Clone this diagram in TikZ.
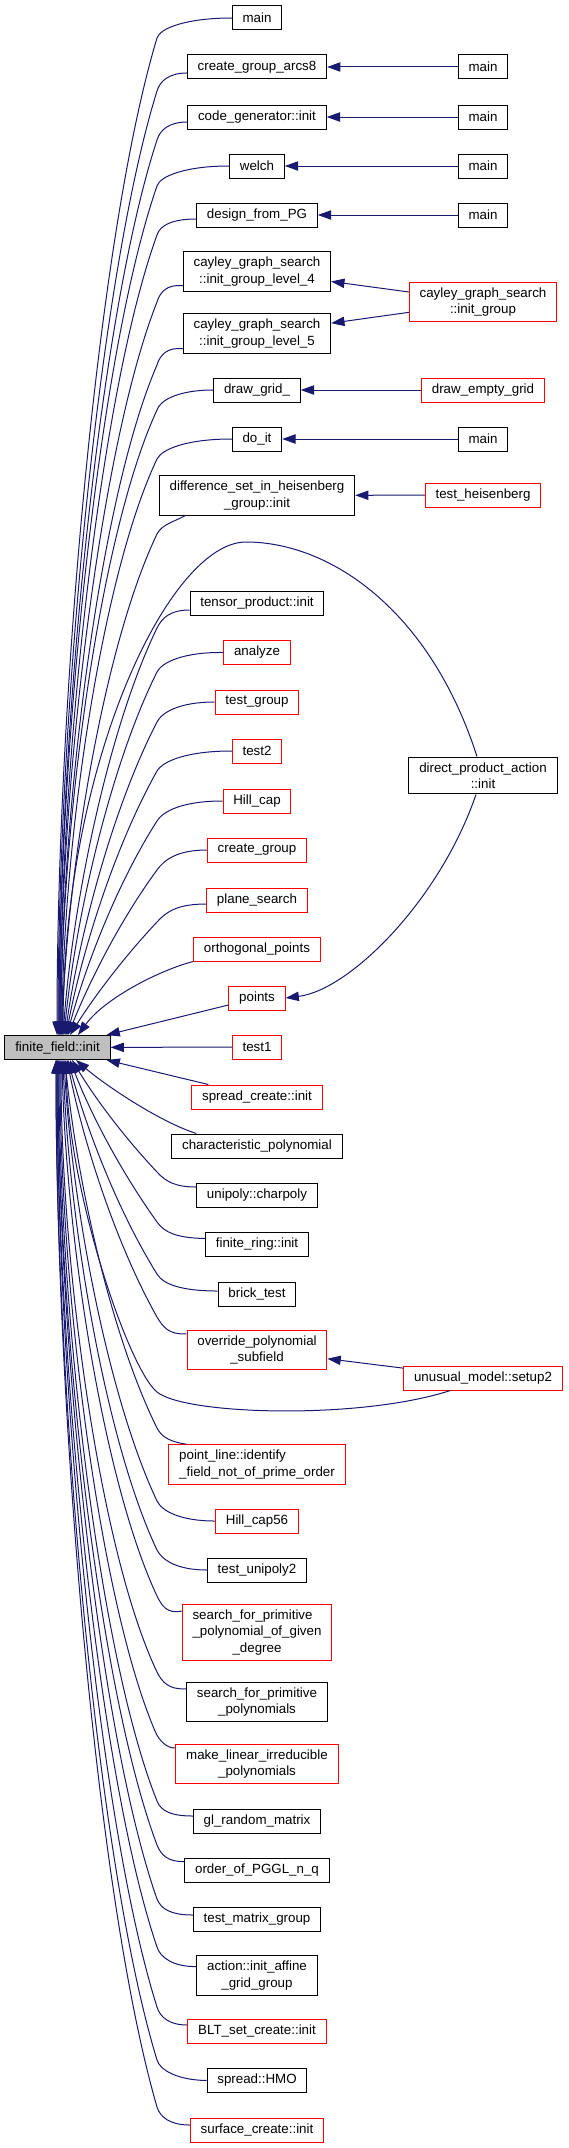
\documentclass[tikz,border=0pt]{standalone}
\usepackage{fontspec}
\setmainfont{Liberation Sans}
\usetikzlibrary{arrows.meta,calc}
\definecolor{navy}{HTML}{191970}
\definecolor{boxgrey}{HTML}{BFBFBF}
\begin{document}
\begin{tikzpicture}[x=0.75pt,y=-0.75pt,
  fn/.style={draw=black,fill=white,line width=0.75pt,inner xsep=7.7pt,inner ysep=4pt,
    minimum height=18pt,font=\fontsize{10}{12}\selectfont},
  fnred/.style={fn,draw=red},
  call/.style={draw=navy,line width=0.75pt,-{Triangle[length=10pt,width=7pt]}}]
\useasboundingbox (0,0) rectangle (568,2148);

\node[fn,fill=boxgrey] (ff) at (57.5,1047.5) {finite\_field::init};

% callers, middle column
\node[fn] (main1) at (257,18) {main};
\node[fn] (arcs8) at (257,67) {create\_group\_arcs8};
\node[fn] (codegen) at (257,117) {code\_generator::init};
\node[fn] (welch) at (257,166) {welch};
\node[fn] (design) at (257,215) {design\_from\_PG};
\node[fn] (cayley4) at (257,271.5) {\shortstack{cayley\_graph\_search\\::init\_group\_level\_4}};
\node[fn] (cayley5) at (257,333.5) {\shortstack{cayley\_graph\_search\\::init\_group\_level\_5}};
\node[fn] (drawgrid) at (257,390) {draw\_grid\_};
\node[fn] (doit) at (257,439) {do\_it};
\node[fn] (diff) at (257,495.5) {\shortstack{difference\_set\_in\_heisenberg\\\_group::init}};
\node[fn] (tensor) at (257,603) {tensor\_product::init};
\node[fnred] (analyze) at (257,652.5) {analyze};
\node[fnred] (testgroup) at (257,702) {test\_group};
\node[fnred] (test2) at (257,751) {test2};
\node[fnred] (hillcap) at (257,801) {Hill\_cap};
\node[fnred] (creategroup) at (257,850) {create\_group};
\node[fnred] (planesearch) at (257,900) {plane\_search};
\node[fnred] (ortho) at (257,949) {orthogonal\_points};
\node[fnred] (points) at (257,998) {points};
\node[fnred] (test1) at (257,1047) {test1};
\node[fnred] (spread) at (257,1097) {spread\_create::init};
\node[fn] (charpoly) at (257,1146) {characteristic\_polynomial};
\node[fn] (unipoly) at (257,1195) {unipoly::charpoly};
\node[fn] (finitering) at (257,1244.5) {finite\_ring::init};
\node[fn] (brick) at (257,1294) {brick\_test};
\node[fnred] (override) at (257,1350) {\shortstack{override\_polynomial\\\_subfield}};
\node[fnred] (pointline) at (257,1464.5) {\shortstack[l]{point\_line::identify\\\_field\_not\_of\_prime\_order}};
\node[fnred] (hillcap56) at (257,1521) {Hill\_cap56};
\node[fn] (testunipoly2) at (257,1570) {test\_unipoly2};
\node[fnred] (sgiven) at (257,1632.5) {\shortstack{\rlap{search\_for\_primitive}\phantom{\_polynomial\_of\_given}\\\_polynomial\_of\_given\\\_degree}};
\node[fn] (sprims) at (257,1702) {\shortstack{search\_for\_primitive\\\_polynomials}};
\node[fnred] (mlinear) at (257,1764) {\shortstack{make\_linear\_irreducible\\\_polynomials}};
\node[fn] (glrandom) at (257,1821) {gl\_random\_matrix};
\node[fn] (order) at (257,1870) {order\_of\_PGGL\_n\_q};
\node[fn] (testmatrix) at (257,1919) {test\_matrix\_group};
\node[fn] (action) at (257,1975.5) {\shortstack{action::init\_affine\\\_grid\_group}};
\node[fnred] (blt) at (257,2031) {BLT\_set\_create::init};
\node[fn] (hmo) at (257,2080.5) {spread::HMO};
\node[fnred] (surface) at (257,2130) {surface\_create::init};

% callers, right column
\node[fn] (mainA) at (483,67) {main};
\node[fn] (mainB) at (483,117) {main};
\node[fn] (mainC) at (483,166) {main};
\node[fn] (mainD) at (483,215) {main};
\node[fnred] (cinit) at (483,302) {\shortstack{cayley\_graph\_search\\::init\_group}};
\node[fnred] (drawempty) at (483,390) {draw\_empty\_grid};
\node[fn] (mainE) at (483,439) {main};
\node[fnred] (testheis) at (483,495) {test\_heisenberg};
\node[fn] (dpa) at (483,775.5) {\shortstack{direct\_product\_action\\::init}};
\node[fnred] (unusual) at (483,1378) {unusual\_model::setup2};

% right column to middle column
\draw[call] (mainA) -- (arcs8);
\draw[call] (mainB) -- (codegen);
\draw[call] (mainC) -- (welch);
\draw[call] (mainD) -- (design);
\draw[call] (cinit) -- (cayley4);
\draw[call] (cinit) -- (cayley5);
\draw[call] (drawempty) -- (drawgrid);
\draw[call] (mainE) -- (doit);
\draw[call] (testheis) -- (diff);
\draw[call] (unusual) -- (override);
\draw[call] ($(dpa.south)+(-7,0)$) .. controls (440,900) and (350,990) .. (points.east);

% upper fan into finite_field::init
\draw[call] (main1.west) .. controls (187,18) and (160,28) .. (157,38) .. controls (97,237) and (57,706) .. ($(ff.north)+(-0.5,0)$);
\draw[call] ($(arcs8.west)+(0,6)$) .. controls (169,73) and (160,81) .. (157,91) .. controls (98,281) and (58,722) .. ($(ff.north)+(0.5,0)$);
\draw[call] ($(codegen.west)+(0,5)$) .. controls (169,122) and (160,130) .. (157,140) .. controls (98,320) and (59,739) .. ($(ff.north)+(1.5,0)$);
\draw[call] (welch.west) .. controls (186,166) and (160,176) .. (157,186) .. controls (98,356) and (59,755) .. ($(ff.north)+(1.5,0)$);
\draw[call] ($(design.west)+(0,4)$) .. controls (173,219) and (160,225) .. (157,235) .. controls (99,395) and (60,771) .. ($(ff.north)+(2.5,0)$);
\draw[call] ($(cayley4.south west)+(0,-6)$) .. controls (167,284) and (160,292) .. (157,302) .. controls (99,449) and (60,793) .. ($(ff.north)+(2.5,0)$);
\draw[call] ($(cayley5.south west)+(0,-5)$) .. controls (167,347) and (160,355) .. (157,365) .. controls (99,499) and (61,814) .. ($(ff.north)+(3.5,0)$);
\draw[call] (drawgrid.west) .. controls (179,390) and (160,400) .. (157,410) .. controls (99,535) and (61,829) .. ($(ff.north)+(3.5,0)$);
\draw[call] (doit.west) .. controls (187,439) and (162,449) .. (157,459) .. controls (101,577) and (63,845) .. ($(ff.north)+(4.5,0)$);
\draw[call] ($(diff.south west)+(26,0)$) .. controls (176,521) and (162,524) .. (157,534) .. controls (104,645) and (67,869) .. ($(ff.north)+(4.5,0)$);
\draw[call] ($(dpa.north)+(-6,0)$) .. controls (430,610) and (330,542) .. (246,542) .. controls (170,542) and (64,760) .. ($(ff.north)+(5.5,0)$);
\draw[call] ($(tensor.west)+(0,7)$) .. controls (170,610) and (162,618) .. (157,628) .. controls (109,727) and (73,900) .. ($(ff.north)+(5.5,0)$);
\draw[call] (analyze.west) .. controls (184,652) and (162,662) .. (157,672) .. controls (111,764) and (76,915) .. ($(ff.north)+(6.5,0)$);
\draw[call] (testgroup.west) .. controls (180,702) and (162,712) .. (157,722) .. controls (114,805) and (80,931) .. ($(ff.north)+(7.5,0)$);
\draw[call] (test2.west) .. controls (187,751) and (163,761) .. (157,771) .. controls (116,844) and (83,947) .. ($(ff.north)+(8.5,0)$);
\draw[call] (hillcap.west) .. controls (183,801) and (163,811) .. (157,821) .. controls (118,882) and (86,964) .. ($(ff.north)+(9.5,0)$);
\draw[call] (creategroup.west) .. controls (177,850) and (164,860) .. (157,870) .. controls (121,919) and (90,980) .. ($(ff.north)+(10.5,0)$);
\draw[call] ($(planesearch.west)+(0,4)$) .. controls (177,904) and (166,912) .. (157,922) .. controls (124,957) and (94,997) .. ($(ff.north)+(12.5,0)$);
\draw[call] (ortho.south west) .. controls (160,970) and (105,998) .. ($(ff.north)+(20.5,0)$);
\draw[call] ($(points.west)+(0,7)$) -- ($(ff.north east)+(-4,0)$);
\draw[call] (test1) -- (ff);

% lower fan into finite_field::init
\draw[call] ($(spread.north west)+(17,0)$) -- ($(ff.south east)+(-4,0)$);
\draw[call] ($(charpoly.north west)+(25,0)$) .. controls (160,1122) and (105,1085) .. ($(ff.south)+(18.5,0)$);
\draw[call] ($(unipoly.west)+(0,-8)$) .. controls (176,1187) and (166,1182) .. (157,1172) .. controls (124,1137) and (95,1098) .. ($(ff.south)+(14.5,0)$);
\draw[call] ($(finitering.west)+(0,-6)$) .. controls (176,1238) and (164,1232) .. (157,1222) .. controls (122,1173) and (91,1115) .. ($(ff.south)+(12.5,0)$);
\draw[call] ($(brick.west)+(0,-3)$) .. controls (181,1291) and (163,1284) .. (157,1274) .. controls (119,1213) and (87,1131) .. ($(ff.south)+(10.5,0)$);
\draw[call] ($(override.north west)+(0,4)$) .. controls (169,1335) and (163,1327) .. (157,1317) .. controls (117,1246) and (84,1145) .. ($(ff.south)+(9.5,0)$);
\draw[call] ($(unusual.south west)+(47,0)$) .. controls (360,1420) and (185,1415) .. (157,1392) .. controls (128,1368) and (68,1190) .. ($(ff.south)+(8.5,0)$);
\draw[call] ($(pointline.north west)+(18,0)$) .. controls (172,1442) and (162,1438) .. (157,1428) .. controls (111,1335) and (77,1182) .. ($(ff.south)+(7.5,0)$);
\draw[call] (hillcap56.west) .. controls (180,1521) and (162,1511) .. (157,1501) .. controls (108,1397) and (72,1206) .. ($(ff.south)+(6.5,0)$);
\draw[call] (testunipoly2.west) .. controls (177,1570) and (162,1560) .. (157,1550) .. controls (105,1440) and (69,1222) .. ($(ff.south)+(5.5,0)$);
\draw[call] ($(sgiven.north west)+(0,7)$) .. controls (167,1614) and (162,1606) .. (157,1596) .. controls (103,1481) and (66,1237) .. ($(ff.south)+(4.5,0)$);
\draw[call] ($(sprims.north west)+(0,7)$) .. controls (169,1690) and (162,1682) .. (157,1672) .. controls (99,1550) and (61,1262) .. ($(ff.south)+(3.5,0)$);
\draw[call] ($(mlinear.north west)+(0,4)$) .. controls (168,1749) and (159,1741) .. (155,1731) .. controls (98,1597) and (60,1281) .. ($(ff.south)+(2.5,0)$);
\draw[call] ($(glrandom.west)+(0,-5)$) .. controls (171,1816) and (161,1811) .. (157,1801) .. controls (98,1653) and (59,1304) .. ($(ff.south)+(1.5,0)$);
\draw[call] ($(order.north west)+(0,4)$) .. controls (168,1862) and (161,1855) .. (157,1845) .. controls (98,1688) and (58,1321) .. ($(ff.south)+(0.5,0)$);
\draw[call] ($(testmatrix.west)+(0,-4)$) .. controls (171,1915) and (161,1909) .. (157,1899) .. controls (98,1731) and (58,1337) .. ($(ff.south)+(0.5,0)$);
\draw[call] ($(action.west)+(0,-9)$) .. controls (173,1967) and (160,1957) .. (157,1947) .. controls (97,1770) and (57,1353) .. ($(ff.south)+(-0.5,0)$);
\draw[call] ($(blt.west)+(0,-6)$) .. controls (169,2025) and (160,2017) .. (157,2007) .. controls (97,1817) and (57,1374) .. ($(ff.south)+(-0.5,0)$);
\draw[call] (hmo.west) .. controls (177,2080) and (160,2070) .. (157,2060) .. controls (96,1860) and (56,1390) .. ($(ff.south)+(-1.5,0)$);
\draw[call] ($(surface.west)+(0,-5)$) .. controls (170,2125) and (160,2117) .. (157,2107) .. controls (96,1897) and (56,1406) .. ($(ff.south)+(-1.5,0)$);
\end{tikzpicture}
\end{document}
